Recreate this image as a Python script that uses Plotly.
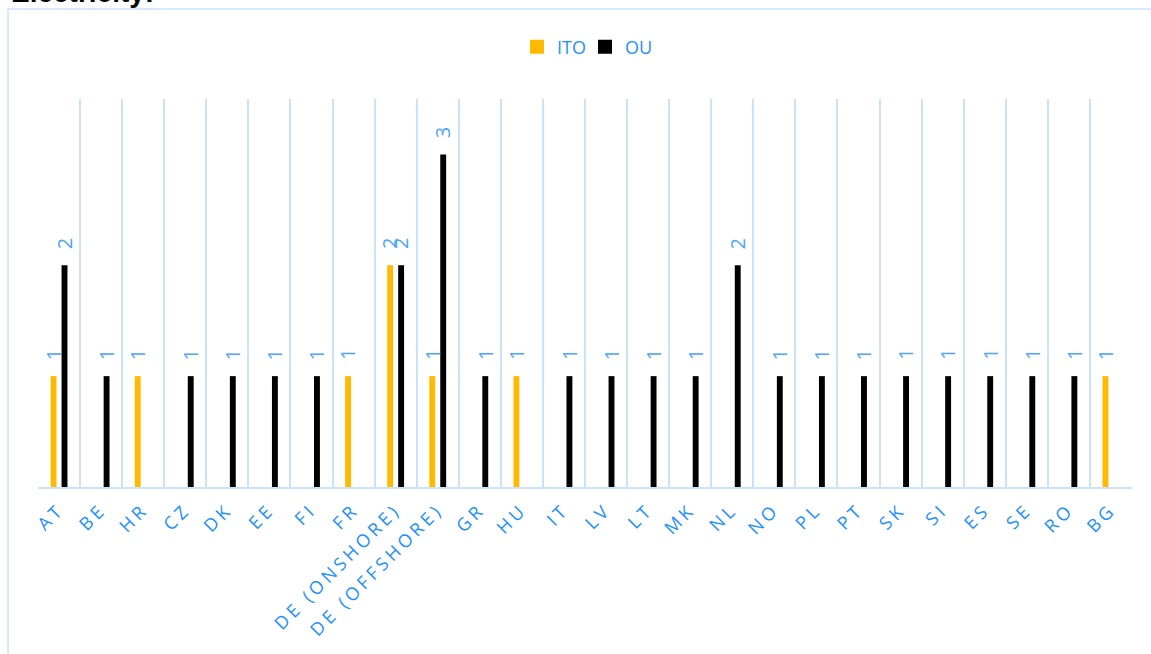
import plotly.graph_objects as go

# Countries / zones
categories = ["AT", "BE", "HR", "CZ", "DK", "EE", "FI", "FR", "DE (ONSHORE)", "DE (OFFSHORE)",
              "GR", "HU", "IT", "LV", "LT", "MK", "NL", "NO", "PL", "PT", "SK", "SI", "ES",
              "SE", "RO", "BG"]

# Number of TSOs per certification model (None = no TSO of that model)
ito_values = [1, None, 1, None, None, None, None, 1, 2, 1,
              None, 1, None, None, None, None, None, None, None, None, None, None, None,
              None, None, 1]
ou_values = [2, 1, None, 1, 1, 1, 1, None, 2, 3,
             1, None, 1, 1, 1, 1, 2, 1, 1, 1, 1, 1, 1,
             1, 1, None]

ITO_COLOR = "#FFB900"
OU_COLOR = "#000000"
TEXT_BLUE = "#1E90FF"
LABEL_BLUE = "#4DA6F7"
GRID_BLUE = "#C9E4FA"
FONT = "Open Sans"

BAR_W = 0.14
series = [
    ("ITO", ito_values, ITO_COLOR, -0.20),
    ("OU", ou_values, OU_COLOR, 0.06),
]

fig = go.Figure()
annotations = []
for name, vals, color, off in series:
    fig.add_trace(go.Bar(
        name=name, x=categories, y=vals, showlegend=False,
        marker=dict(color=color, line=dict(width=0)),
        width=BAR_W, offset=off,
    ))
    shift_px = (off + BAR_W / 2) * 42.1
    for cat, v in zip(categories, vals):
        if v is None:
            continue
        annotations.append(dict(
            x=cat, y=v, xref="x", yref="y", text=str(v), showarrow=False,
            textangle=-90, xshift=shift_px, yshift=14, yanchor="bottom",
            font=dict(family=FONT, size=20, color=LABEL_BLUE),
        ))

# Legend entries with larger square swatches
for name, _, color, _ in series:
    fig.add_trace(go.Scatter(
        name=name, x=[None], y=[None], mode="markers",
        marker=dict(symbol="square", size=14, color=color, line=dict(width=0)),
    ))

# Chart title (partly above the visible page area)
annotations.append(dict(
    x=-0.0265, y=1.2294, xref="paper", yref="paper", text="<b>Electricity:</b>",
    showarrow=False, xanchor="left", yanchor="bottom",
    font=dict(family="Liberation Sans", size=28, color="#000000"),
))

fig.update_layout(
    width=1151, height=654,
    margin=dict(l=38, r=19, t=99, b=167),
    paper_bgcolor="white", plot_bgcolor="white",
    barmode="overlay",
    font=dict(family=FONT, color=TEXT_BLUE),
    showlegend=True,
    legend=dict(orientation="h", x=0.5, xanchor="center", y=1.134, yanchor="middle",
                font=dict(family=FONT, size=18, color=TEXT_BLUE),
                traceorder="normal", itemsizing="trace",
                entrywidth=23, entrywidthmode="pixels"),
    annotations=annotations,
    shapes=[dict(type="rect", xref="paper", yref="paper",
                 x0=-0.0274, x1=1.2, y0=-0.6, y1=1.232,
                 line=dict(color=GRID_BLUE, width=1.5), layer="below")],
)

fig.update_xaxes(
    type="category", tickson="boundaries", showgrid=True, gridcolor=GRID_BLUE, gridwidth=1.5,
    showline=True, linecolor=GRID_BLUE, linewidth=2, ticks="", ticklabelstandoff=3,
    tickangle=-45, tickfont=dict(family=FONT, size=18, color=TEXT_BLUE),
)
fig.update_yaxes(range=[0, 3.5], visible=False, showgrid=False)

# Widen the spacing between letters of the category labels
spacing_js = """
document.querySelectorAll('g.xtick text').forEach(function (t) {
  t.style.letterSpacing = '3.8px';
});
"""
fig.write_html("out.html", post_script=spacing_js)
